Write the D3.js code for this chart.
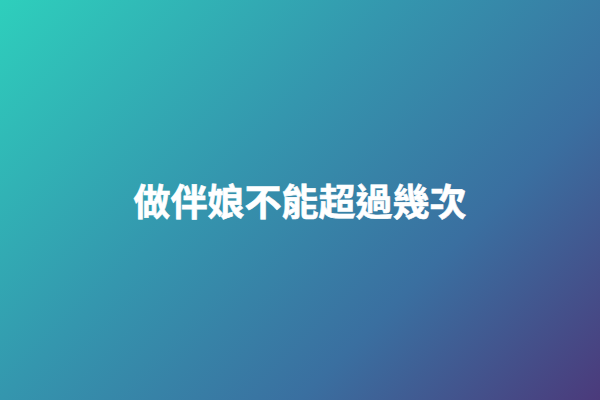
<!DOCTYPE html>
<html>
<head>
<meta charset="utf-8">
<script src="https://cdn.jsdelivr.net/npm/d3@7"></script>
<style>
  html, body { margin: 0; padding: 0; overflow: hidden; }
</style>
</head>
<body>
<div id="my_dataviz"></div>
<script>
var width = 600,
    height = 400;

// gradient stops (offset along the diagonal) and colours
var stopOffsets = [0, 0.4, 0.7, 1];
var stopColors = ["#2ecfbc", "#3496ae", "#3a6fa0", "#4b3a7b"];

// title text
var title = "做伴娘不能超過幾次";

var svg = d3.select("#my_dataviz")
  .append("svg")
    .attr("width", width)
    .attr("height", height);

var grad = svg.append("defs")
  .append("linearGradient")
    .attr("id", "bg")
    .attr("gradientUnits", "userSpaceOnUse")
    .attr("x1", 0).attr("y1", 0)
    .attr("x2", (width + height) / 2).attr("y2", (width + height) / 2);

grad.selectAll("stop")
  .data(stopOffsets)
  .enter()
  .append("stop")
    .attr("offset", function(d) { return d; })
    .attr("stop-color", function(d, i) { return stopColors[i]; });

svg.append("rect")
  .attr("width", width)
  .attr("height", height)
  .attr("fill", "url(#bg)");

svg.append("text")
  .text(title)
  .attr("x", width / 2)
  .attr("y", 200)
  .attr("text-anchor", "middle")
  .attr("dominant-baseline", "central")
  .attr("font-family", "'Noto Sans CJK TC', 'Noto Sans CJK SC', sans-serif")
  .attr("font-weight", "bold")
  .attr("font-size", "37px")
  .attr("fill", "#ffffff")
  .attr("stroke", "#ffffff")
  .attr("stroke-width", 0.6);
</script>
</body>
</html>
